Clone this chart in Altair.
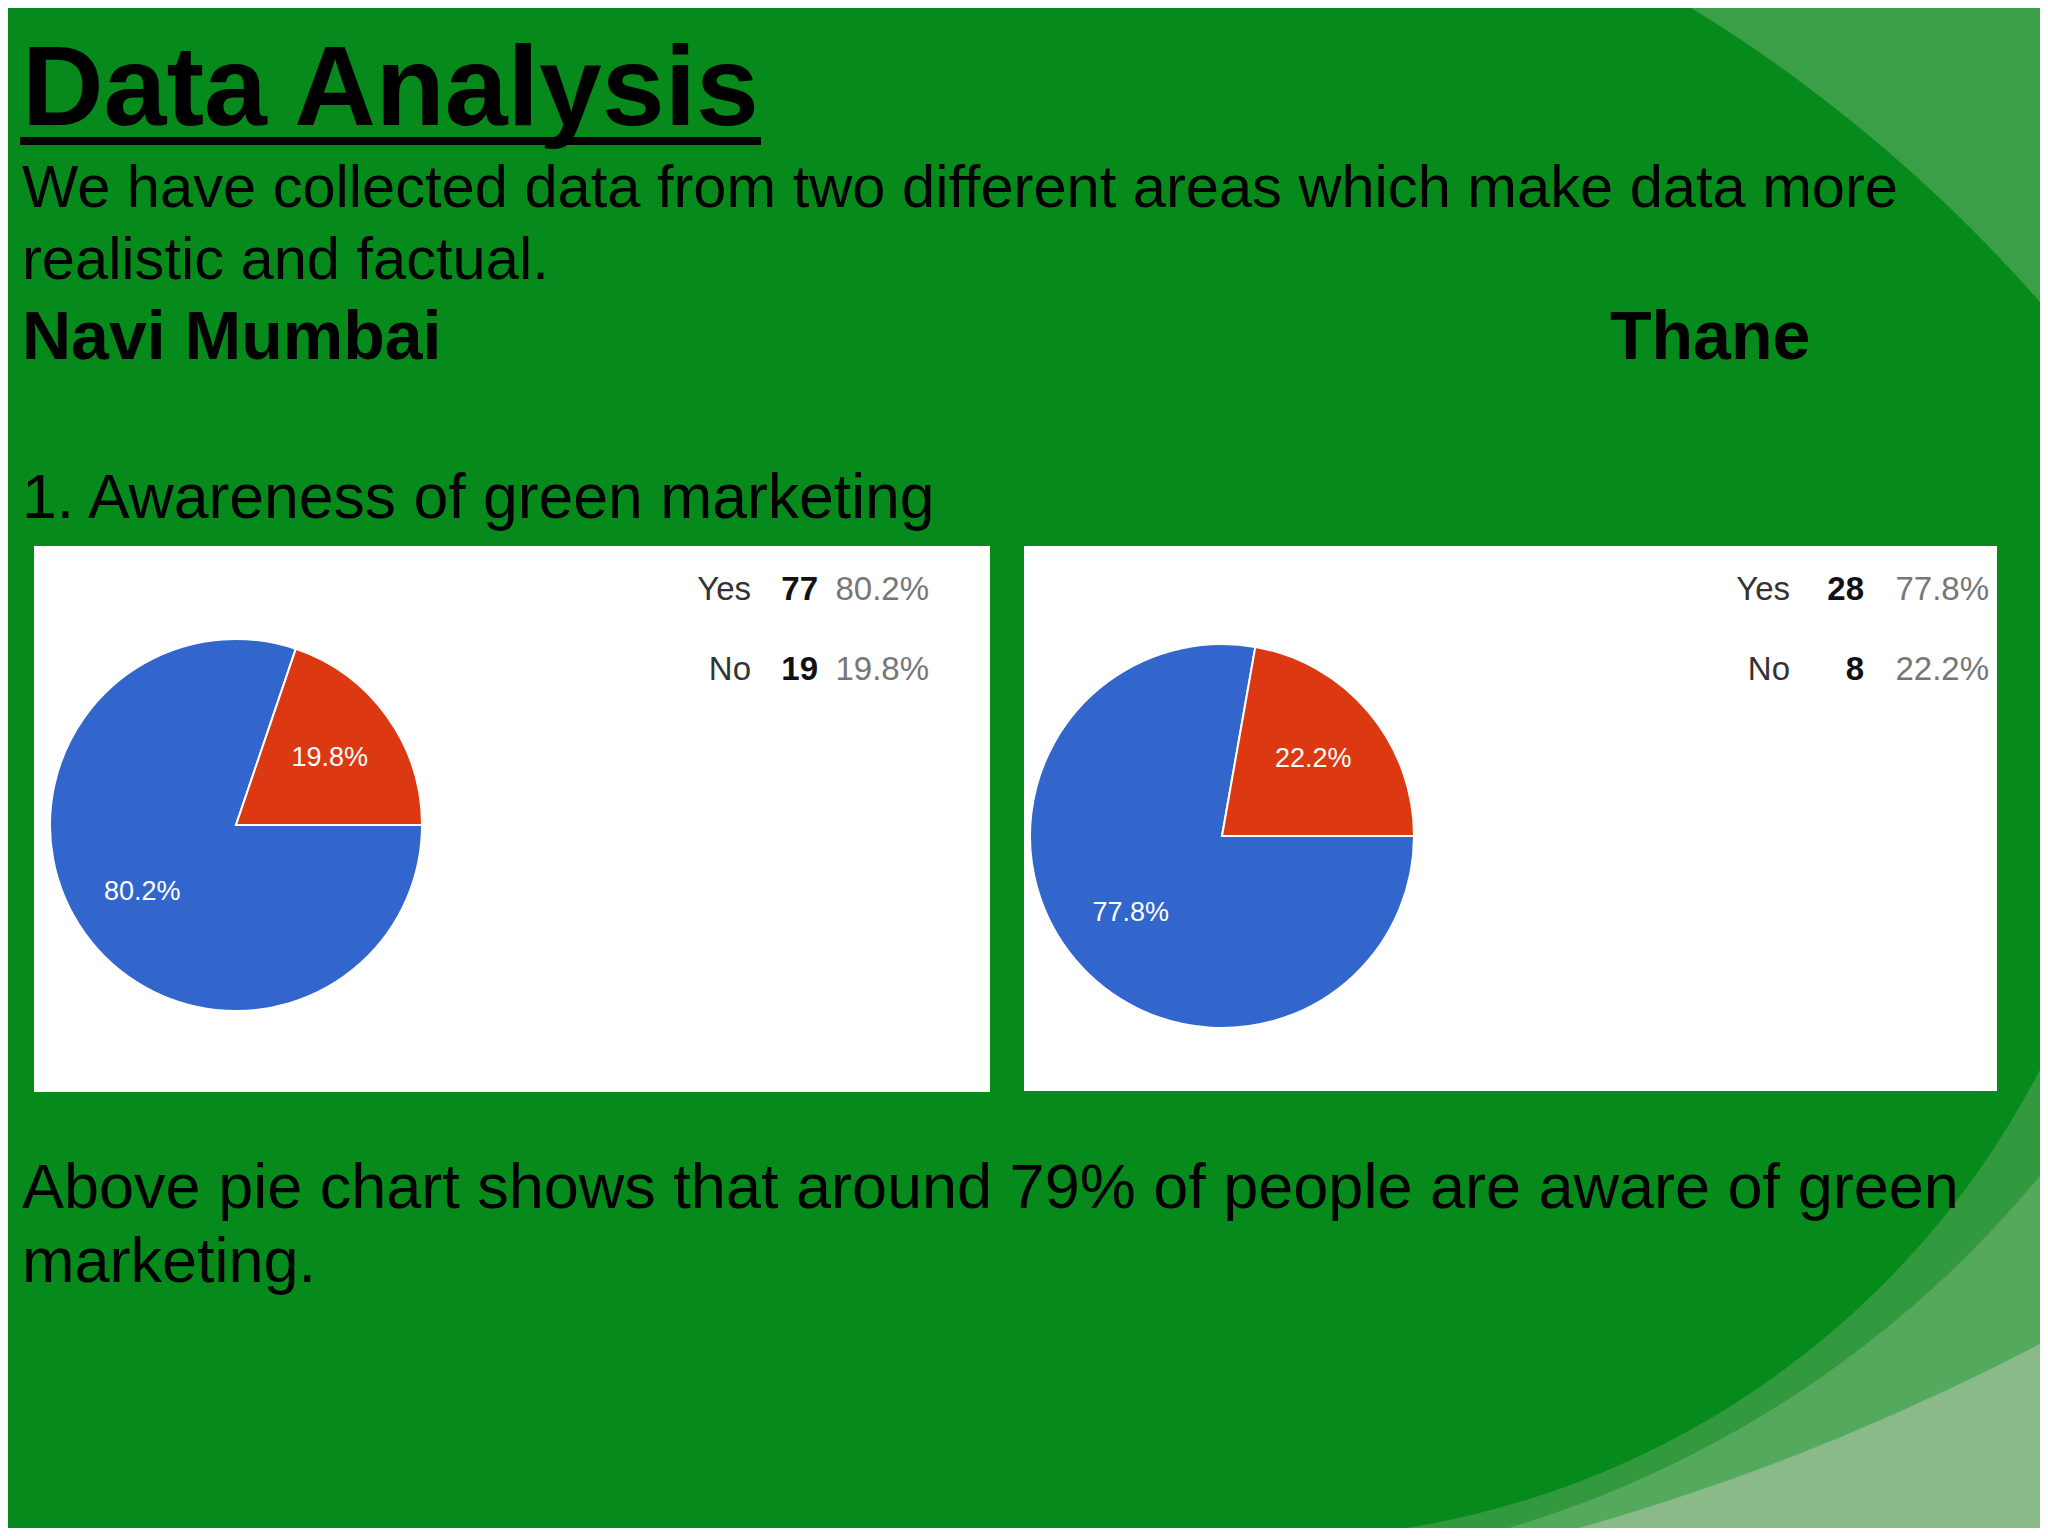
import math
import altair as alt
import pandas as pd

# ---------------- data ----------------
answers = ["Yes", "No"]
navi_counts = [77, 19]
thane_counts = [28, 8]
area_names = ["Navi Mumbai", "Thane"]

title_text = "Data Analysis"
intro_lines = [
    "We have collected data from two different areas which make data more",
    "realistic and factual.",
]
question_text = "1. Awareness of green marketing"
summary_lines = [
    "Above pie chart shows that around 79% of people are aware of  green",
    "marketing.",
]

# ---------------- styles ----------------
W, H = 2032, 1520
OFF = 8  # page margin


def px(v):
    return v - OFF


MAIN_GREEN = "#078a1c"
SLIDE_FONT = "Liberation Sans, Arial, sans-serif"
CHART_FONT = "'Liberation Sans Narrow', 'Arial Narrow', 'Liberation Sans', Arial, sans-serif"
BLUE, RED = "#3366cc", "#dc3912"


def ring(cx, cy, r_in, r_out, t0, t1, color):
    return alt.Chart(alt.Data(values=[{}])).mark_arc(
        innerRadius=r_in, outerRadius=r_out, theta=t0, theta2=t1,
        color=color, clip=True, strokeWidth=0,
    ).encode(x=alt.value(px(cx)), y=alt.value(px(cy)))


def box(x0, y0, x1, y1, color="white"):
    return alt.Chart(alt.Data(values=[{}])).mark_rect(color=color).encode(
        x=alt.value(px(x0)), x2=alt.value(px(x1)),
        y=alt.value(px(y0)), y2=alt.value(px(y1)),
    )


def label(text, x, y, size, weight="normal", align="left"):
    return alt.Chart(alt.Data(values=[{"t": text}])).mark_text(
        font=SLIDE_FONT, fontSize=size, fontWeight=weight, color="black",
        align=align, baseline="alphabetic",
    ).encode(text="t:N", x=alt.value(px(x)), y=alt.value(px(y)))


def survey_frame(counts):
    df = pd.DataFrame({"answer": answers, "count": counts})
    return (
        alt.Chart(df)
        .transform_window(idx="row_number()")
        .transform_joinaggregate(total="sum(count)")
        .transform_calculate(share="datum.count / datum.total")
    )


def pie(counts, cx, cy, r):
    base = survey_frame(counts).encode(
        theta=alt.Theta("count:Q", stack=True,
                        scale=alt.Scale(range=[math.pi / 2, math.pi / 2 + 2 * math.pi])),
        order=alt.Order("idx:Q"),
        x=alt.value(px(cx)),
        y=alt.value(px(cy)),
    )
    arcs = base.mark_arc(outerRadius=r, stroke="white", strokeWidth=2).encode(
        color=alt.Color("answer:N", sort=answers,
                        scale=alt.Scale(domain=answers, range=[BLUE, RED]), legend=None)
    )
    texts = base.mark_text(radius=r * 0.62, font=CHART_FONT, fontSize=27).encode(
        text=alt.Text("share:Q", format=".1%"), color=alt.value("white")
    )
    return alt.layer(arcs, texts)


def table(counts, x_label, x_count, x_share):
    base = survey_frame(counts).encode(
        y=alt.Y("answer:N", sort=answers, axis=None,
                scale=alt.Scale(type="point", domain=answers, padding=0,
                                range=[px(590), px(670)]))
    )
    style = dict(align="right", baseline="middle", font=CHART_FONT, fontSize=33)
    a = base.mark_text(color="#333333", **style).encode(
        text="answer:N", x=alt.value(px(x_label)))
    c = base.mark_text(fontWeight="bold", color="#111111", **style).encode(
        text="count:Q", x=alt.value(px(x_count)))
    s = base.mark_text(color="#777777", **style).encode(
        text=alt.Text("share:Q", format=".1%"), x=alt.value(px(x_share)))
    return alt.layer(a, c, s)


layers = [
    # background swooshes
    ring(900, 1300, 1515, 3200, 0, math.pi / 2, "#3a9f47"),
    ring(1269, 671, 868, 3200, math.pi / 2, math.pi, "#33993f"),
    ring(1194, 476, 1098, 3200, math.pi / 2, math.pi, "#55a95c"),
    ring(924, -781, 2400, 4200, math.pi / 2, math.pi, "#8ab98a"),
    # headings and text
    label(title_text, 22, 125, 113, weight="bold"),
    box(20, 137, 761, 145, color="black"),
    label(intro_lines[0], 22, 207, 59.6),
    label(intro_lines[1], 22, 279, 59.6),
    label(area_names[0], 22, 359, 68, weight="bold"),
    label(area_names[1], 1610, 359, 68, weight="bold"),
    label(question_text, 22, 518, 62.5),
    # chart panels
    box(34, 546, 990, 1092),
    box(1024, 546, 1997, 1091),
    pie(navi_counts, 236, 825, 186),
    pie(thane_counts, 1222, 836, 192),
    table(navi_counts, 751, 818, 929),
    table(thane_counts, 1790, 1864, 1989),
    # conclusion
    label(summary_lines[0], 22, 1208, 63),
    label(summary_lines[1], 22, 1282, 63),
]

chart = (
    alt.layer(*layers)
    .resolve_scale(theta="independent")
    .properties(
        width=W, height=H, padding=0,
        autosize=alt.AutoSizeParams(type="fit", contains="padding"),
        background=MAIN_GREEN,
    )
    .configure_view(stroke=None, fill=MAIN_GREEN)
)

chart.save("out.html", embed_options={"renderer": "svg", "actions": False})
